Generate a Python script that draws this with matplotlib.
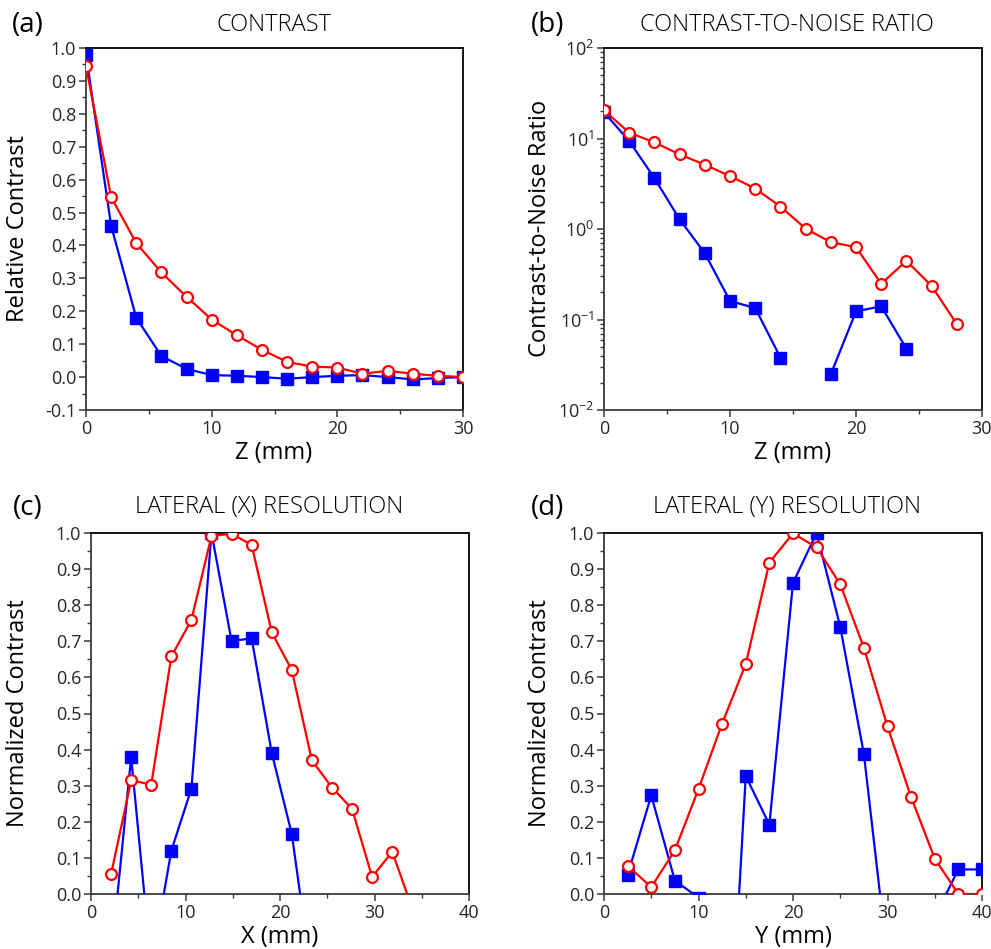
"""
    Four-panel comparison plot: contrast, CNR and lateral resolution.
"""

# 3rd party modules
import numpy as np
from matplotlib import pyplot as plt
from matplotlib import ticker

plt.rcParams['font.family'] = ['Open Sans', 'DejaVu Sans']
plt.rcParams['axes.unicode_minus'] = False
plt.rcParams['mathtext.default'] = 'regular'

BLUE = '#0000ff'
RED = '#ff0000'

# (a) contrast vs depth
z_mm = [0, 2, 4, 6, 8, 10, 12, 14, 16, 18, 20, 22, 24, 26, 28, 30]
contrast_blue = [0.98, 0.46, 0.18, 0.064, 0.025, 0.006, 0.004, 0.0, -0.005, 0.0,
                 0.004, 0.006, 0.0, -0.007, -0.003, 0.0]
contrast_red = [0.945, 0.547, 0.407, 0.318, 0.244, 0.175, 0.127, 0.083, 0.046,
                0.032, 0.029, 0.01, 0.019, 0.01, 0.004, 0.0]

# (b) contrast-to-noise ratio vs depth (nan = not positive, not drawn)
cnr_blue = [19.5, 9.36, 3.65, 1.28, 0.54, 0.16, 0.134, 0.038, np.nan, 0.0248,
            0.123, 0.14, 0.0476, np.nan, np.nan, np.nan]
cnr_red = [20.5, 11.6, 9.06, 6.67, 5.13, 3.84, 2.8, 1.77, 1.01, 0.715, 0.63,
           0.248, 0.445, 0.235, 0.089, np.nan]

# (c) lateral X profile
x_mm = [2.125, 4.25, 6.375, 8.5, 10.625, 12.75, 14.875, 17.0, 19.125, 21.25,
        23.375, 25.5, 27.625, 29.75, 31.875, 34.0]
xres_blue = [-0.18, 0.379, -0.2, 0.12, 0.292, 1.0, 0.701, 0.708, 0.391, 0.166,
             -0.235, np.nan, np.nan, np.nan, np.nan, np.nan]
xres_red = [0.055, 0.315, 0.303, 0.658, 0.759, 0.992, 0.998, 0.967, 0.725, 0.62,
            0.37, 0.295, 0.236, 0.047, 0.117, -0.04]

# (d) lateral Y profile
y_mm = [2.5, 5.0, 7.5, 10.0, 12.5, 15.0, 17.5, 20.0, 22.5, 25.0, 27.5, 30.0,
        32.5, 35.0, 37.5, 40.0]
yres_blue = [0.053, 0.273, 0.037, -0.01, -0.84, 0.327, 0.192, 0.862, 1.0, 0.74,
             0.388, -0.18, -0.1, -0.063, 0.068, 0.068]
yres_red = [0.078, 0.019, 0.121, 0.291, 0.472, 0.637, 0.918, 0.999, 0.96, 0.858,
            0.682, 0.464, 0.268, 0.098, 0.0, 0.0]

W, H = 991, 949


def px_axes(fig, left, top, right, bottom):
    """ピクセル座標で軸を作る。"""
    return fig.add_axes([left / W, 1 - bottom / H, (right - left) / W, (bottom - top) / H])


def style_axes(ax):
    for side in ('top', 'right'):
        ax.spines[side].set_color('black')
    for side in ('left', 'bottom'):
        ax.spines[side].set_color('#3a3a3a')
    for sp in ax.spines.values():
        sp.set_linewidth(1.3)
    ax.tick_params(which='both', direction='out', top=False, right=False,
                   color='#3a3a3a', labelcolor='#262626', labelsize=13, pad=2)
    ax.tick_params(which='major', length=5, width=1.1)
    ax.tick_params(which='minor', length=3, width=1.0)


def draw_pair(ax, x, blue, red):
    ax.plot(x, blue, color=BLUE, lw=1.6, marker='s', ms=8.5, mfc=BLUE, mec=BLUE, zorder=3)
    ax.plot(x, red, color=RED, lw=1.6, marker='o', ms=7.8, mfc='white', mec=RED,
            mew=1.6, zorder=4)


def main():
    fig = plt.figure(figsize=(W / 100, H / 100), dpi=100)

    ax_a = px_axes(fig, 86, 48, 463, 410)
    ax_b = px_axes(fig, 604, 48, 982, 410)
    ax_c = px_axes(fig, 91, 533, 469, 894)
    ax_d = px_axes(fig, 604, 533, 982, 894)

    # (a)
    draw_pair(ax_a, z_mm, contrast_blue, contrast_red)
    ax_a.set_xlim(0, 30)
    ax_a.set_ylim(-0.1, 1.0)
    ax_a.xaxis.set_major_locator(ticker.MultipleLocator(10))
    ax_a.xaxis.set_minor_locator(ticker.MultipleLocator(5))
    ax_a.yaxis.set_major_locator(ticker.MultipleLocator(0.1))
    ax_a.yaxis.set_minor_locator(ticker.MultipleLocator(0.05))
    ax_a.yaxis.set_major_formatter(ticker.FormatStrFormatter('%.1f'))

    # (b)
    draw_pair(ax_b, z_mm, cnr_blue, cnr_red)
    ax_b.set_yscale('log')
    ax_b.set_xlim(0, 30)
    ax_b.set_ylim(1e-2, 1e2)
    ax_b.xaxis.set_major_locator(ticker.MultipleLocator(10))
    ax_b.xaxis.set_minor_locator(ticker.MultipleLocator(5))
    ax_b.yaxis.set_major_locator(ticker.LogLocator(base=10, numticks=10))
    ax_b.yaxis.set_minor_locator(ticker.LogLocator(base=10, subs=np.arange(2, 10), numticks=10))
    ax_b.yaxis.set_minor_formatter(ticker.NullFormatter())

    # (c), (d)
    draw_pair(ax_c, x_mm, xres_blue, xres_red)
    draw_pair(ax_d, y_mm, yres_blue, yres_red)
    for ax in (ax_c, ax_d):
        ax.set_xlim(0, 40)
        ax.set_ylim(0, 1.0)
        ax.xaxis.set_major_locator(ticker.MultipleLocator(10))
        ax.xaxis.set_minor_locator(ticker.MultipleLocator(5))
        ax.yaxis.set_major_locator(ticker.MultipleLocator(0.1))
        ax.yaxis.set_minor_locator(ticker.MultipleLocator(0.05))
        ax.yaxis.set_major_formatter(ticker.FormatStrFormatter('%.1f'))

    for ax in (ax_a, ax_b, ax_c, ax_d):
        style_axes(ax)

    # texts (pixel positions)
    def ftext(x, y, s, **kw):
        fig.text(x / W, 1 - y / H, s, ha='center', va='center', color='black', **kw)

    title_kw = dict(fontsize=17, fontweight='light')
    ftext(274, 25, 'CONTRAST', **title_kw)
    ftext(787, 25, 'CONTRAST-TO-NOISE RATIO', **title_kw)
    ftext(269, 507, 'LATERAL (X) RESOLUTION', **title_kw)
    ftext(787, 507, 'LATERAL (Y) RESOLUTION', **title_kw)

    label_kw = dict(fontsize=17)
    ftext(28, 25, '(a)', fontsize=20)
    ftext(548, 25, '(b)', fontsize=20)
    ftext(28, 508, '(c)', fontsize=20)
    ftext(548, 508, '(d)', fontsize=20)

    ftext(18, 228, 'Relative Contrast', rotation=90, **label_kw)
    ftext(540, 228, 'Contrast-to-Noise Ratio', rotation=90, **label_kw)
    ftext(18, 713, 'Normalized Contrast', rotation=90, **label_kw)
    ftext(540, 713, 'Normalized Contrast', rotation=90, **label_kw)

    ftext(274, 453, 'Z (mm)', **label_kw)
    ftext(793, 453, 'Z (mm)', **label_kw)
    ftext(280, 937, 'X (mm)', **label_kw)
    ftext(793, 937, 'Y (mm)', **label_kw)

    fig.savefig('out.png', dpi=100)


if __name__ == '__main__':
    main()
